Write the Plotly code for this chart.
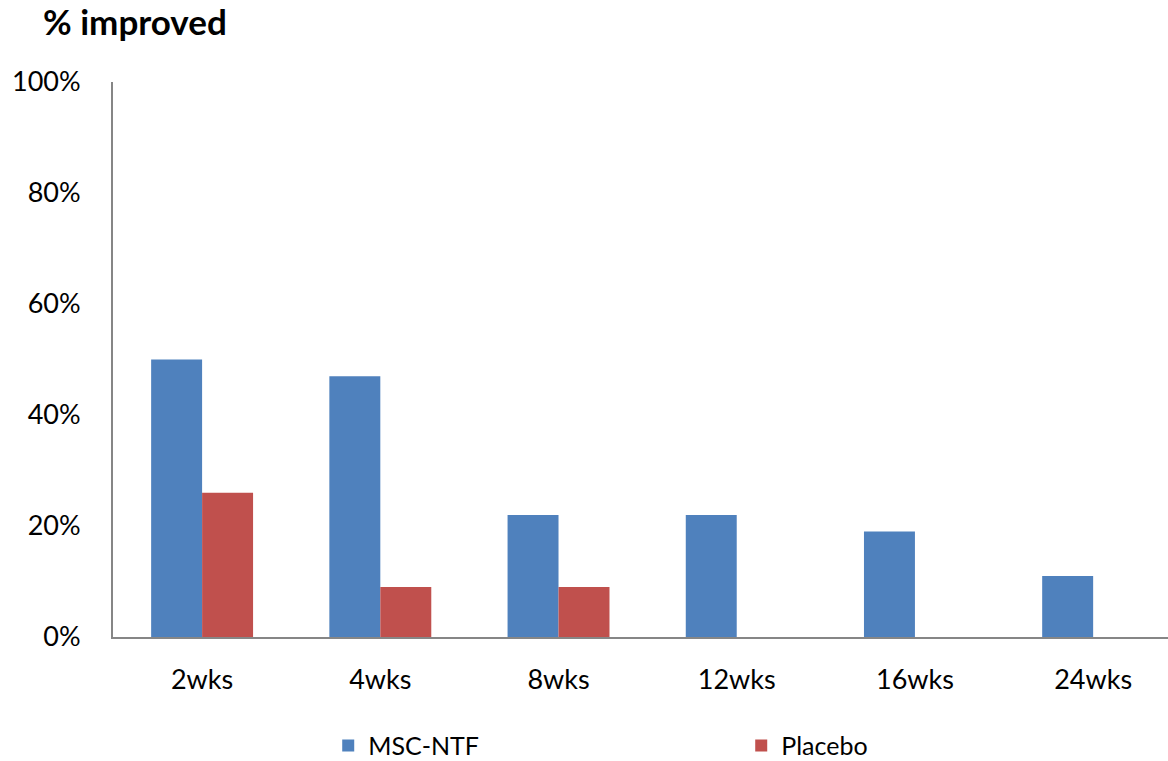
import plotly.graph_objects as go

# Share of patients improved at each follow-up visit
weeks = ["2wks", "4wks", "8wks", "12wks", "16wks", "24wks"]
msc_ntf = [0.50, 0.47, 0.22, 0.22, 0.19, 0.11]
placebo = [0.26, 0.09, 0.09, 0.0, 0.0, 0.0]

FONT = "Lato, 'Liberation Sans', sans-serif"
AXIS_GRAY = "#868686"

fig = go.Figure()
fig.add_trace(go.Bar(name="MSC-NTF", x=weeks, y=msc_ntf,
                     marker=dict(color="#4F81BD", line=dict(width=0))))
fig.add_trace(go.Bar(name="Placebo", x=weeks, y=placebo,
                     marker=dict(color="#C0504D", line=dict(width=0))))

fig.update_layout(
    width=1168, height=761,
    margin=dict(l=113, r=0, t=82, b=124, autoexpand=False),
    paper_bgcolor="white", plot_bgcolor="white",
    font=dict(family=FONT, size=27, color="black"),
    barmode="group", bargap=0.428, bargroupgap=0,
    title=dict(text="<b>% improved</b>", xref="container", yref="container",
               x=43 / 1168, xanchor="left", y=1 - 23 / 761, yanchor="middle",
               font=dict(family=FONT, size=35, color="black")),
    xaxis=dict(type="category", range=[-0.5, 5.42], showline=True,
               linecolor=AXIS_GRAY, linewidth=2, showgrid=False, ticks="",
               ticklabelstandoff=18, tickfont=dict(size=27)),
    yaxis=dict(range=[0, 1], dtick=0.2, tickformat=".0%", showline=True,
               linecolor=AXIS_GRAY, linewidth=2, showgrid=False, ticks="",
               zeroline=False, ticklabelstandoff=25, tickfont=dict(size=27)),
    legend=dict(orientation="h", x=0.204, xanchor="left", y=-0.196,
                yanchor="middle", entrywidth=368, entrywidthmode="pixels",
                font=dict(size=25)),
)

fig.write_html("out.html")
